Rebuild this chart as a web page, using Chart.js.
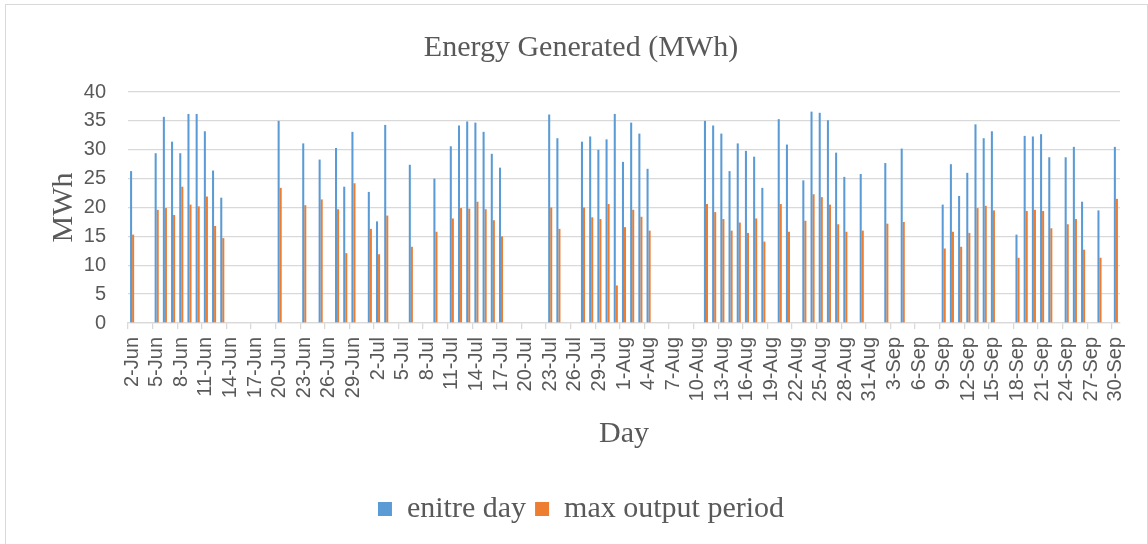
<!DOCTYPE html>
<html>
<head>
<meta charset="utf-8">
<script src="https://cdn.jsdelivr.net/npm/chart.js@4"></script>
<style>
  html, body { margin: 0; padding: 0; background: #fff; }
  #wrap { position: relative; width: 1148px; height: 544px; overflow: hidden; }
  #frame { position: absolute; left: 5px; top: 4px; width: 1143px; height: 560px;
           border: 1.5px solid #d9d9d9; box-sizing: border-box; }
  canvas { position: absolute; left: 0; top: 0; }
</style>
</head>
<body>
<div id="wrap">
  <div id="frame"></div>
  <canvas id="chart" width="1148" height="544"></canvas>
</div>
<script>
// Day spans covered by the chart (month name, first day, last day)
const monthSpans = [['Jun', 2, 30], ['Jul', 1, 31], ['Aug', 1, 31], ['Sep', 1, 30]];

// Energy over the entire day (MWh), one entry per calendar day; null = no record
const entireJun = [26.3, null, null, 29.4, 35.7, 31.4, 29.4, 36.2, 36.2, 33.2, 26.4, 21.7,
  null, null, null, null, null, null, 35.0, null, null, 31.1, null, 28.3, null, 30.3, 23.6, 33.1, null];
const entireJul = [22.7, 17.6, 34.3, null, null, 27.4, null, null, 25.0, null, 30.6, 34.2, 34.9,
  34.7, 33.1, 29.3, 26.9, null, null, null, null, null, 36.1, 32.0, null, null, 31.4, 32.3, 30.0, 31.8, 36.2];
const entireAug = [27.9, 34.7, 32.8, 26.7, null, null, null, null, null, null, 35.0, 34.2, 32.8,
  26.3, 31.1, 29.8, 28.8, 23.4, null, 35.3, 30.9, null, 24.7, 36.6, 36.4, 35.1, 29.5, 25.3, null, 25.8, null];
const entireSep = [null, 27.7, null, 30.2, null, null, null, null, 20.5, 27.5, 22.0, 26.0, 34.4,
  32.0, 33.2, null, null, 15.3, 32.4, 32.3, 32.7, 28.7, null, 28.7, 30.5, 21.0, null, 19.5, null, 30.5];

// Energy during the max output period (MWh)
const peakJun = [15.3, null, null, 19.6, 19.9, 18.7, 23.6, 20.5, 20.2, 21.9, 16.8, 14.7,
  null, null, null, null, null, null, 23.4, null, null, 20.4, null, 21.4, null, 19.7, 12.1, 24.2, null];
const peakJul = [16.3, 11.9, 18.6, null, null, 13.2, null, null, 15.8, null, 18.1, 19.9, 19.8,
  21.0, 19.7, 17.8, 15.0, null, null, null, null, null, 20.0, 16.3, null, null, 20.0, 18.3, 18.0, 20.6, 6.5];
const peakAug = [16.6, 19.6, 18.4, 16.0, null, null, null, null, null, null, 20.6, 19.2, 18.0,
  16.0, 17.4, 15.6, 18.1, 14.1, null, 20.6, 15.8, null, 17.7, 22.3, 21.8, 20.5, 17.1, 15.8, null, 16.0, null];
const peakSep = [null, 17.2, null, 17.5, null, null, null, null, 12.9, 15.8, 13.2, 15.6, 19.9,
  20.3, 19.5, null, null, 11.3, 19.4, 19.6, 19.4, 16.4, null, 17.1, 18.0, 12.7, null, 11.3, null, 21.5];

// Y axis range
const yTicks = { min: 0, max: 40, step: 5 };

// Category labels such as "2-Jun"
const days = [];
monthSpans.forEach(([m, a, b]) => { for (let d = a; d <= b; d++) days.push(d + '-' + m); });

const entireDay = [].concat(entireJun, entireJul, entireAug, entireSep);
const maxOutput = [].concat(peakJun, peakJul, peakAug, peakSep);

const textGrey = '#595959';
const gridGrey = '#d9d9d9';
const serif = 'Liberation Serif, Times New Roman, serif';
const sans = 'Liberation Sans, Arial, sans-serif';

new Chart(document.getElementById('chart'), {
  type: 'bar',
  data: {
    labels: days,
    datasets: [
      { label: 'enitre day', data: entireDay, backgroundColor: '#5B9BD5',
        categoryPercentage: 0.5, barPercentage: 1 },
      { label: 'max output period', data: maxOutput, backgroundColor: '#ED7D31',
        categoryPercentage: 0.5, barPercentage: 1 }
    ]
  },
  options: {
    responsive: false,
    animation: false,
    layout: { padding: { left: 42, right: 28, top: 10, bottom: 10 } },
    plugins: {
      title: {
        display: true, text: 'Energy Generated (MWh)', color: textGrey,
        font: { family: serif, size: 30, weight: 'normal' },
        padding: { top: 20, bottom: 26 }
      },
      legend: {
        position: 'bottom',
        labels: { boxWidth: 14, boxHeight: 14, color: textGrey, padding: 9,
                  font: { family: serif, size: 30 } }
      },
      tooltip: { enabled: false }
    },
    scales: {
      x: {
        grid: {
          drawOnChartArea: false, drawTicks: true, tickLength: 6, lineWidth: 1.3,
          color: (c) => (c.index % 3 === 0 ? gridGrey : 'rgba(0,0,0,0)')
        },
        border: { display: true, color: gridGrey, width: 1.3 },
        ticks: {
          autoSkip: false, minRotation: 90, maxRotation: 90, padding: 8,
          color: textGrey, font: { family: sans, size: 20 },
          callback: function (v, i) { return i % 3 === 0 ? this.getLabelForValue(v) : ''; }
        },
        title: { display: true, text: 'Day', color: textGrey,
                 font: { family: serif, size: 30 }, padding: { top: 0, bottom: 33 } },
        afterFit: (s) => { s.height = 162; }
      },
      y: {
        min: yTicks.min, max: yTicks.max,
        grid: { color: gridGrey, lineWidth: 1.3, drawTicks: false },
        border: { display: false },
        ticks: { stepSize: yTicks.step, padding: 22, color: textGrey,
                 font: { family: sans, size: 20 } },
        title: { display: true, text: 'MWh', color: textGrey,
                 font: { family: serif, size: 30 }, padding: { top: 4, bottom: 0 } },
        afterFit: (s) => { s.width = 86; }
      }
    }
  }
});
</script>
</body>
</html>
